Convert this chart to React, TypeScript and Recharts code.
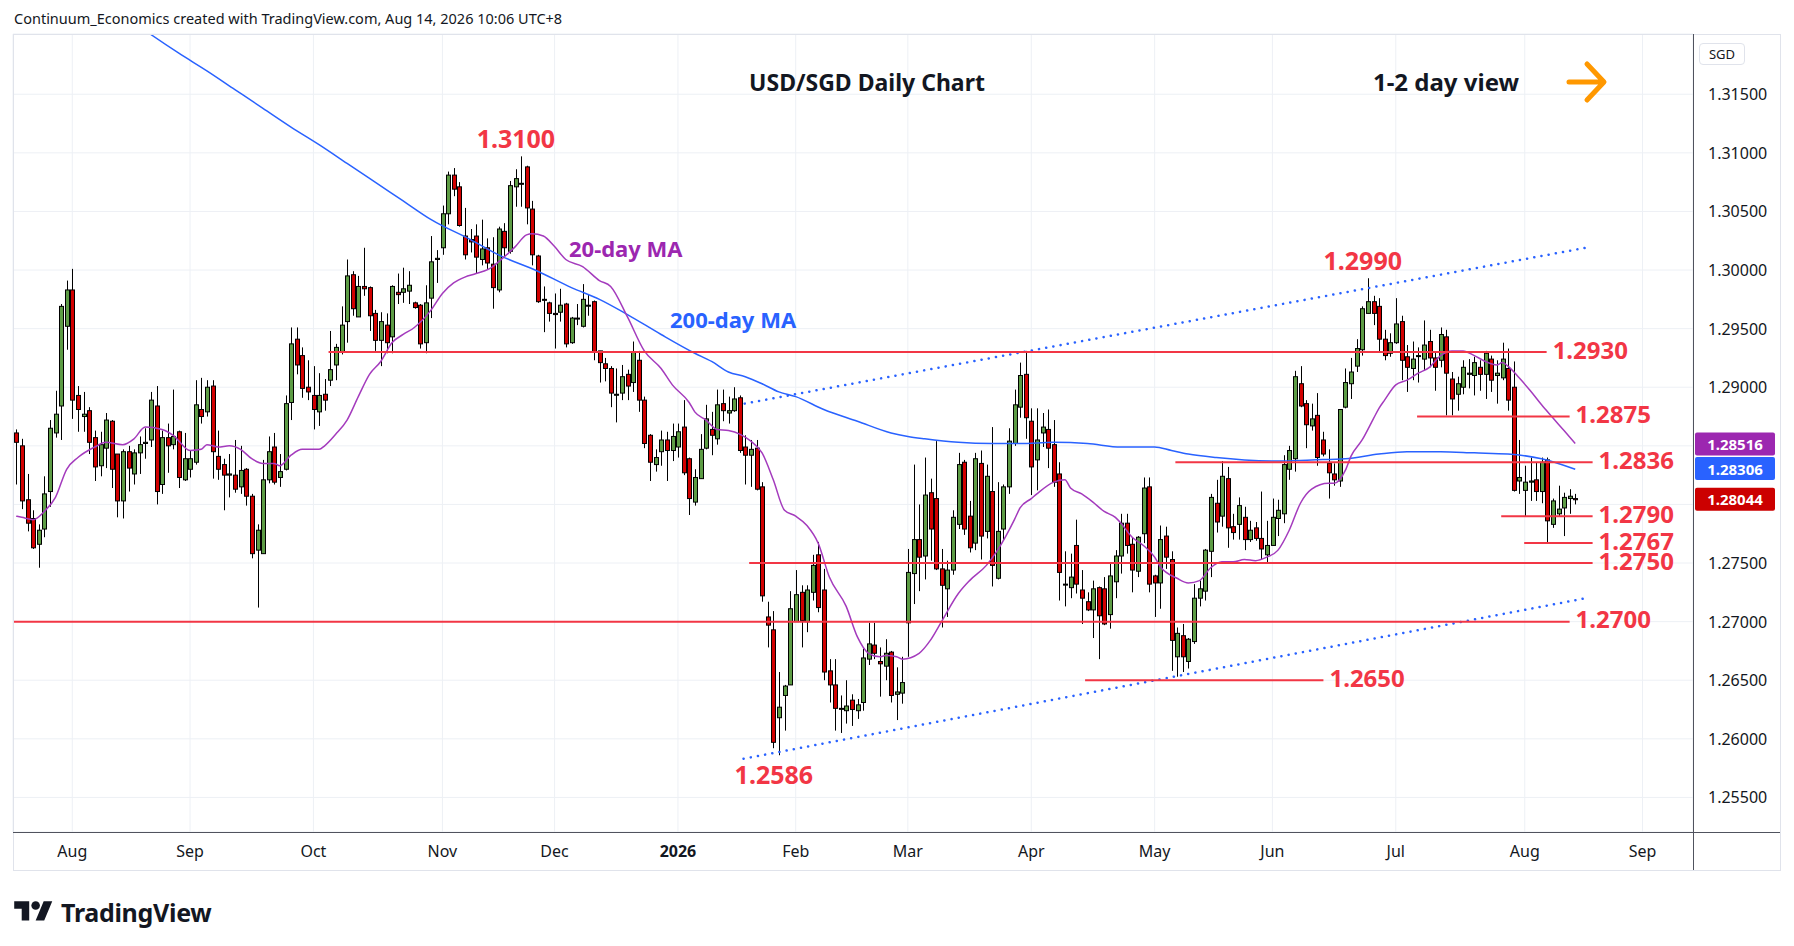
import { ComposedChart, Bar, Line, XAxis, YAxis, CartesianGrid, ReferenceLine, ReferenceDot } from 'recharts';

// open, high, low, close
type Ohlc = [number, number, number, number];

const jul25: Ohlc[] = [
  [1.2861, 1.2864, 1.2817, 1.2853], [1.2850, 1.2856, 1.2796, 1.2803], [1.2804, 1.2826, 1.2777, 1.2784],
  [1.2788, 1.2795, 1.2762, 1.2763], [1.2766, 1.2783, 1.2746, 1.2778], [1.2779, 1.2824, 1.2772, 1.2809],
  [1.2811, 1.2872, 1.2798, 1.2865], [1.2861, 1.2897, 1.2857, 1.2877], [1.2884, 1.2971, 1.2855, 1.2969],
  [1.2952, 1.2991, 1.2932, 1.2983],
];
const aug25: Ohlc[] = [
  [1.2983, 1.3001, 1.2873, 1.2889], [1.2893, 1.2901, 1.2862, 1.2881], [1.2875, 1.2896, 1.2862, 1.2877],
  [1.2880, 1.2883, 1.2843, 1.2853], [1.2857, 1.2863, 1.2820, 1.2832], [1.2833, 1.2862, 1.2824, 1.2851],
  [1.2848, 1.2878, 1.2831, 1.2872], [1.2871, 1.2872, 1.2814, 1.2830], [1.2843, 1.2843, 1.2789, 1.2803],
  [1.2803, 1.2847, 1.2788, 1.2845], [1.2845, 1.2850, 1.2811, 1.2831], [1.2826, 1.2847, 1.2817, 1.2844],
  [1.2844, 1.2858, 1.2826, 1.2851], [1.2852, 1.2865, 1.2839, 1.2853], [1.2855, 1.2896, 1.2849, 1.2889],
  [1.2884, 1.2901, 1.2800, 1.2811], [1.2817, 1.2863, 1.2809, 1.2857], [1.2857, 1.2869, 1.2827, 1.2850],
  [1.2851, 1.2898, 1.2847, 1.2858], [1.2862, 1.2863, 1.2814, 1.2823], [1.2821, 1.2861, 1.2820, 1.2839],
];
const sep25: Ohlc[] = [
  [1.2830, 1.2846, 1.2823, 1.2839], [1.2836, 1.2906, 1.2834, 1.2885], [1.2881, 1.2908, 1.2869, 1.2875],
  [1.2879, 1.2906, 1.2875, 1.2900], [1.2901, 1.2906, 1.2822, 1.2845], [1.2841, 1.2863, 1.2821, 1.2830],
  [1.2834, 1.2839, 1.2795, 1.2825], [1.2825, 1.2843, 1.2806, 1.2826], [1.2825, 1.2855, 1.2810, 1.2813],
  [1.2815, 1.2850, 1.2809, 1.2829], [1.2830, 1.2831, 1.2799, 1.2807], [1.2807, 1.2809, 1.2754, 1.2758],
  [1.2761, 1.2783, 1.2712, 1.2778], [1.2758, 1.2838, 1.2758, 1.2821], [1.2821, 1.2858, 1.2818, 1.2845],
  [1.2849, 1.2861, 1.2817, 1.2819], [1.2823, 1.2843, 1.2815, 1.2828], [1.2830, 1.2893, 1.2829, 1.2886],
  [1.2887, 1.2951, 1.2872, 1.2937], [1.2941, 1.2951, 1.2911, 1.2919], [1.2927, 1.2934, 1.2891, 1.2899],
  [1.2900, 1.2923, 1.2889, 1.2896],
];
const oct25: Ohlc[] = [
  [1.2893, 1.2918, 1.2864, 1.2881], [1.2879, 1.2912, 1.2867, 1.2893], [1.2894, 1.2907, 1.2880, 1.2889],
  [1.2906, 1.2948, 1.2901, 1.2915], [1.2919, 1.2937, 1.2906, 1.2934], [1.2930, 1.2969, 1.2928, 1.2953],
  [1.2956, 1.3009, 1.2938, 1.2995], [1.2996, 1.2999, 1.2961, 1.2967], [1.2960, 1.2995, 1.2960, 1.2986],
  [1.2986, 1.3019, 1.2978, 1.2984], [1.2985, 1.2986, 1.2948, 1.2961], [1.2963, 1.2966, 1.2931, 1.2940],
  [1.2940, 1.2964, 1.2918, 1.2956], [1.2953, 1.2963, 1.2929, 1.2938], [1.2943, 1.2987, 1.2929, 1.2986],
  [1.2981, 1.2997, 1.2971, 1.2979], [1.2981, 1.3002, 1.2972, 1.2984], [1.2982, 1.2999, 1.2971, 1.2987],
  [1.2972, 1.2973, 1.2967, 1.2968], [1.2970, 1.2971, 1.2933, 1.2937], [1.2938, 1.2987, 1.2929, 1.2972],
  [1.2976, 1.3029, 1.2959, 1.3007], [1.3009, 1.3017, 1.2989, 1.3010],
];
const nov25: Ohlc[] = [
  [1.3019, 1.3055, 1.3013, 1.3048], [1.3048, 1.3084, 1.3039, 1.3081], [1.3081, 1.3087, 1.3063, 1.3069],
  [1.3071, 1.3075, 1.3037, 1.3038], [1.3029, 1.3053, 1.3009, 1.3013], [1.3026, 1.3035, 1.3015, 1.3024],
  [1.3029, 1.3039, 1.2997, 1.3011], [1.3009, 1.3043, 1.3004, 1.3018], [1.3019, 1.3027, 1.3001, 1.3006],
  [1.3005, 1.3028, 1.2967, 1.2985], [1.2983, 1.3037, 1.2981, 1.3035], [1.3033, 1.3040, 1.3011, 1.3019],
  [1.3016, 1.3076, 1.3014, 1.3072], [1.3071, 1.3086, 1.3054, 1.3078], [1.3074, 1.3097, 1.3054, 1.3074],
  [1.3088, 1.3089, 1.3039, 1.3053], [1.3052, 1.3059, 1.3004, 1.3013], [1.3012, 1.3013, 1.2972, 1.2973],
  [1.2975, 1.2986, 1.2947, 1.2975], [1.2972, 1.2973, 1.2956, 1.2963],
];
const dec25: Ohlc[] = [
  [1.2963, 1.2980, 1.2933, 1.2962], [1.2964, 1.2984, 1.2956, 1.2970], [1.2971, 1.2972, 1.2934, 1.2937],
  [1.2938, 1.2960, 1.2937, 1.2959], [1.2959, 1.2971, 1.2953, 1.2959], [1.2952, 1.2988, 1.2951, 1.2975],
  [1.2970, 1.2979, 1.2961, 1.2970], [1.2973, 1.2974, 1.2923, 1.2930], [1.2931, 1.2931, 1.2904, 1.2921],
  [1.2920, 1.2925, 1.2905, 1.2916], [1.2916, 1.2918, 1.2883, 1.2895], [1.2894, 1.2916, 1.2870, 1.2894],
  [1.2895, 1.2919, 1.2889, 1.2909], [1.2911, 1.2915, 1.2889, 1.2901], [1.2904, 1.2939, 1.2896, 1.2930],
  [1.2923, 1.2931, 1.2879, 1.2889], [1.2889, 1.2892, 1.2848, 1.2852], [1.2859, 1.2860, 1.2820, 1.2836],
  [1.2834, 1.2847, 1.2828, 1.2840], [1.2845, 1.2863, 1.2833, 1.2855], [1.2855, 1.2862, 1.2820, 1.2846],
  [1.2846, 1.2869, 1.2837, 1.2858],
];
const jan26: Ohlc[] = [
  [1.2849, 1.2869, 1.2840, 1.2862], [1.2866, 1.2889, 1.2825, 1.2827], [1.2839, 1.2840, 1.2791, 1.2805],
  [1.2802, 1.2830, 1.2799, 1.2823], [1.2822, 1.2860, 1.2822, 1.2847], [1.2848, 1.2885, 1.2847, 1.2873],
  [1.2864, 1.2879, 1.2842, 1.2859], [1.2856, 1.2898, 1.2851, 1.2885], [1.2886, 1.2898, 1.2871, 1.2880],
  [1.2878, 1.2892, 1.2869, 1.2880], [1.2880, 1.2900, 1.2879, 1.2890], [1.2891, 1.2893, 1.2844, 1.2846],
  [1.2849, 1.2859, 1.2817, 1.2842], [1.2842, 1.2855, 1.2815, 1.2847], [1.2848, 1.2855, 1.2812, 1.2813],
  [1.2815, 1.2819, 1.2717, 1.2722], [1.2704, 1.2717, 1.2678, 1.2697], [1.2693, 1.2709, 1.2592, 1.2597],
  [1.2618, 1.2657, 1.2586, 1.2627], [1.2637, 1.2646, 1.2607, 1.2645], [1.2646, 1.2726, 1.2646, 1.2711],
];
const feb26: Ohlc[] = [
  [1.2700, 1.2744, 1.2700, 1.2723], [1.2725, 1.2731, 1.2678, 1.2701], [1.2700, 1.2731, 1.2691, 1.2727],
  [1.2725, 1.2757, 1.2718, 1.2748], [1.2757, 1.2768, 1.2708, 1.2712], [1.2727, 1.2745, 1.2650, 1.2657],
  [1.2658, 1.2668, 1.2631, 1.2646], [1.2646, 1.2668, 1.2607, 1.2626], [1.2626, 1.2637, 1.2605, 1.2626],
  [1.2624, 1.2650, 1.2613, 1.2628], [1.2633, 1.2638, 1.2611, 1.2625], [1.2624, 1.2634, 1.2617, 1.2629],
  [1.2631, 1.2677, 1.2624, 1.2669], [1.2668, 1.2699, 1.2663, 1.2681], [1.2680, 1.2699, 1.2668, 1.2673],
  [1.2666, 1.2678, 1.2636, 1.2664], [1.2662, 1.2685, 1.2650, 1.2673], [1.2674, 1.2675, 1.2631, 1.2637],
  [1.2638, 1.2661, 1.2616, 1.2640], [1.2639, 1.2670, 1.2630, 1.2648],
];
const mar26: Ohlc[] = [
  [1.2699, 1.2762, 1.2670, 1.2742], [1.2741, 1.2834, 1.2715, 1.2770], [1.2770, 1.2800, 1.2726, 1.2755],
  [1.2756, 1.2840, 1.2736, 1.2808], [1.2810, 1.2822, 1.2752, 1.2779], [1.2805, 1.2854, 1.2744, 1.2745],
  [1.2745, 1.2762, 1.2695, 1.2731], [1.2728, 1.2752, 1.2704, 1.2744], [1.2744, 1.2795, 1.2740, 1.2789],
  [1.2783, 1.2844, 1.2779, 1.2834], [1.2836, 1.2838, 1.2774, 1.2779], [1.2790, 1.2803, 1.2759, 1.2763],
  [1.2767, 1.2844, 1.2761, 1.2839], [1.2835, 1.2846, 1.2753, 1.2773], [1.2777, 1.2834, 1.2771, 1.2824],
  [1.2811, 1.2866, 1.2730, 1.2748], [1.2737, 1.2819, 1.2736, 1.2777], [1.2779, 1.2817, 1.2769, 1.2815],
  [1.2815, 1.2865, 1.2809, 1.2854], [1.2852, 1.2898, 1.2850, 1.2885], [1.2883, 1.2921, 1.2874, 1.2910],
  [1.2911, 1.2931, 1.2856, 1.2874],
];
const apr26: Ohlc[] = [
  [1.2871, 1.2882, 1.2808, 1.2832], [1.2838, 1.2882, 1.2812, 1.2855], [1.2861, 1.2878, 1.2849, 1.2866],
  [1.2864, 1.2881, 1.2831, 1.2848], [1.2851, 1.2872, 1.2815, 1.2819], [1.2826, 1.2836, 1.2718, 1.2742],
  [1.2732, 1.2760, 1.2713, 1.2732], [1.2729, 1.2758, 1.2720, 1.2738], [1.2765, 1.2787, 1.2724, 1.2732],
  [1.2727, 1.2744, 1.2698, 1.2720], [1.2717, 1.2725, 1.2709, 1.2710], [1.2710, 1.2735, 1.2686, 1.2728],
  [1.2729, 1.2730, 1.2668, 1.2705], [1.2728, 1.2738, 1.2697, 1.2698], [1.2706, 1.2750, 1.2694, 1.2739],
  [1.2734, 1.2761, 1.2720, 1.2756], [1.2756, 1.2792, 1.2741, 1.2784], [1.2784, 1.2792, 1.2758, 1.2765],
  [1.2766, 1.2772, 1.2725, 1.2744], [1.2743, 1.2773, 1.2738, 1.2772], [1.2775, 1.2823, 1.2767, 1.2814],
  [1.2815, 1.2823, 1.2725, 1.2732],
];
const may26: Ohlc[] = [
  [1.2739, 1.2740, 1.2704, 1.2733], [1.2733, 1.2782, 1.2711, 1.2770], [1.2773, 1.2781, 1.2745, 1.2755],
  [1.2753, 1.2760, 1.2658, 1.2684], [1.2670, 1.2695, 1.2653, 1.2690], [1.2688, 1.2698, 1.2657, 1.2670],
  [1.2666, 1.2686, 1.2660, 1.2685], [1.2683, 1.2732, 1.2681, 1.2720], [1.2720, 1.2735, 1.2713, 1.2728],
  [1.2726, 1.2762, 1.2718, 1.2761], [1.2760, 1.2809, 1.2738, 1.2806], [1.2801, 1.2821, 1.2776, 1.2785],
  [1.2790, 1.2837, 1.2781, 1.2824], [1.2822, 1.2832, 1.2763, 1.2780], [1.2781, 1.2792, 1.2770, 1.2776],
  [1.2783, 1.2806, 1.2770, 1.2799], [1.2789, 1.2798, 1.2761, 1.2770], [1.2770, 1.2786, 1.2768, 1.2778],
  [1.2780, 1.2785, 1.2769, 1.2771], [1.2771, 1.2811, 1.2753, 1.2762], [1.2757, 1.2786, 1.2750, 1.2765],
];
const jun26: Ohlc[] = [
  [1.2765, 1.2805, 1.2765, 1.2789], [1.2788, 1.2804, 1.2773, 1.2795], [1.2792, 1.2842, 1.2784, 1.2834],
  [1.2830, 1.2850, 1.2821, 1.2846], [1.2839, 1.2914, 1.2828, 1.2909], [1.2903, 1.2918, 1.2883, 1.2884],
  [1.2886, 1.2889, 1.2848, 1.2868], [1.2867, 1.2886, 1.2863, 1.2873], [1.2876, 1.2895, 1.2833, 1.2840],
  [1.2855, 1.2862, 1.2841, 1.2843], [1.2835, 1.2847, 1.2805, 1.2827], [1.2826, 1.2835, 1.2816, 1.2821],
  [1.2820, 1.2881, 1.2815, 1.2881], [1.2883, 1.2916, 1.2882, 1.2904], [1.2903, 1.2925, 1.2890, 1.2913],
  [1.2918, 1.2941, 1.2913, 1.2933], [1.2932, 1.2969, 1.2927, 1.2967], [1.2963, 1.2993, 1.2963, 1.2973],
  [1.2973, 1.2978, 1.2953, 1.2963], [1.2969, 1.2976, 1.2930, 1.2941], [1.2941, 1.2949, 1.2923, 1.2927],
  [1.2929, 1.2946, 1.2926, 1.2938],
];
const jul26: Ohlc[] = [
  [1.2938, 1.2976, 1.2937, 1.2954], [1.2956, 1.2961, 1.2906, 1.2923], [1.2926, 1.2936, 1.2896, 1.2917],
  [1.2916, 1.2939, 1.2906, 1.2924], [1.2927, 1.2934, 1.2904, 1.2927], [1.2924, 1.2957, 1.2914, 1.2936],
  [1.2939, 1.2949, 1.2917, 1.2925], [1.2925, 1.2930, 1.2897, 1.2917], [1.2923, 1.2951, 1.2917, 1.2945],
  [1.2943, 1.2949, 1.2876, 1.2912], [1.2907, 1.2913, 1.2876, 1.2890], [1.2894, 1.2909, 1.2880, 1.2903],
  [1.2900, 1.2923, 1.2894, 1.2917], [1.2911, 1.2924, 1.2899, 1.2912], [1.2910, 1.2926, 1.2893, 1.2921],
  [1.2917, 1.2923, 1.2897, 1.2911], [1.2911, 1.2931, 1.2890, 1.2929], [1.2924, 1.2927, 1.2896, 1.2906],
  [1.2910, 1.2923, 1.2886, 1.2912], [1.2908, 1.2938, 1.2906, 1.2924], [1.2916, 1.2933, 1.2880, 1.2889],
  [1.2900, 1.2922, 1.2811, 1.2812], [1.2820, 1.2855, 1.2809, 1.2823],
];
const aug26: Ohlc[] = [
  [1.2812, 1.2833, 1.2790, 1.2819], [1.2819, 1.2840, 1.2803, 1.2820], [1.2821, 1.2836, 1.2803, 1.2811],
  [1.2811, 1.2840, 1.2801, 1.2836], [1.2838, 1.2840, 1.2767, 1.2786], [1.2783, 1.2805, 1.2780, 1.2803],
  [1.2792, 1.2816, 1.2790, 1.2796], [1.2797, 1.2810, 1.2773, 1.2806], [1.2805, 1.2813, 1.2792, 1.2807],
  [1.2805, 1.2809, 1.2800, 1.2804],
];

// moving averages: [bar number, value]
const ma20Points: [number, number][] = [
  [1, 1.2790], [2, 1.2789], [4, 1.2787], [6, 1.2794], [8, 1.2806], [10, 1.2830], [12, 1.2840], [15, 1.2849],
  [17, 1.2853], [20, 1.2851], [22, 1.2856], [24, 1.2866], [27, 1.2864], [29, 1.2859], [32, 1.2846], [34, 1.2847],
  [35, 1.2851], [37, 1.2849], [39, 1.2850], [41, 1.2847], [43, 1.2839], [45, 1.2835], [47, 1.2835], [48, 1.2833],
  [50, 1.2842], [52, 1.2847], [55, 1.2847], [56, 1.2850], [58, 1.2860], [60, 1.2872], [62, 1.2892], [64, 1.2911],
  [66, 1.2922], [68, 1.2938], [70, 1.2945], [72, 1.2951], [75, 1.2966], [77, 1.2980], [79, 1.2989], [81, 1.2994],
  [83, 1.2997], [86, 1.3003], [87, 1.3007], [90, 1.3020], [92, 1.3030], [93, 1.3031], [95, 1.3029], [97, 1.3020],
  [99, 1.3009], [102, 1.3003], [105, 1.2991], [107, 1.2986], [110, 1.2960], [113, 1.2931], [116, 1.2916],
  [118, 1.2902], [121, 1.2887], [122, 1.2879], [124, 1.2872], [126, 1.2864], [128, 1.2863], [130, 1.2860],
  [132, 1.2854], [134, 1.2844], [136, 1.2821], [138, 1.2795], [140, 1.2790], [142, 1.2782], [144, 1.2767],
  [146, 1.2738], [149, 1.2713], [151, 1.2687], [153, 1.2673], [155, 1.2670], [156, 1.2671], [158, 1.2670],
  [159, 1.2668], [162, 1.2673], [164, 1.2684], [166, 1.2700], [169, 1.2724], [171, 1.2735], [174, 1.2748],
  [176, 1.2761], [179, 1.2787], [180, 1.2797], [182, 1.2805], [183, 1.2809], [186, 1.2819], [188, 1.2821],
  [189, 1.2814], [191, 1.2809], [193, 1.2802], [195, 1.2794], [197, 1.2789], [198, 1.2784], [200, 1.2772],
  [202, 1.2765], [204, 1.2755], [205, 1.2747], [208, 1.2737], [210, 1.2733], [212, 1.2735], [214, 1.2746],
  [216, 1.2751], [218, 1.2751], [220, 1.2753], [222, 1.2752], [224, 1.2755], [226, 1.2761], [228, 1.2778],
  [230, 1.2801], [232, 1.2813], [235, 1.2818], [236, 1.2818], [238, 1.2829], [239, 1.2841], [241, 1.2855],
  [243, 1.2873], [244, 1.2882], [245, 1.2889], [247, 1.2902], [249, 1.2906], [251, 1.2912], [253, 1.2917],
  [255, 1.2927], [257, 1.2931], [259, 1.2931], [261, 1.2927], [263, 1.2922], [265, 1.2919], [266, 1.2921],
  [267, 1.2918], [269, 1.2908], [271, 1.2897], [273, 1.2885], [275, 1.2874], [277, 1.2863], [279, 1.2852],
];
const ma200Points: [number, number][] = [
  [22, 1.3211], [25, 1.3201], [30, 1.3185], [35, 1.3170], [40, 1.3154], [45, 1.3138], [50, 1.3122],
  [55, 1.3107], [60, 1.3091], [65, 1.3075], [70, 1.3059], [75, 1.3043], [82, 1.3026], [87, 1.3013],
  [94, 1.2999], [100, 1.2985], [105, 1.2975], [110, 1.2962], [116, 1.2945], [122, 1.2929], [125, 1.2922],
  [128, 1.2913], [131, 1.2909], [134, 1.2903], [137, 1.2896], [140, 1.2892], [145, 1.2881], [151, 1.2871],
  [157, 1.2861], [160, 1.2858], [163, 1.2856], [169, 1.2853], [175, 1.2852], [180, 1.2852], [186, 1.2853],
  [192, 1.2852], [198, 1.2849], [204, 1.2849], [207, 1.2846], [210, 1.2843], [215, 1.2840], [220, 1.2838],
  [226, 1.2837], [232, 1.2838], [238, 1.2839], [244, 1.2843], [249, 1.2845], [255, 1.2845], [261, 1.2844],
  [267, 1.2843], [273, 1.2839], [279, 1.2830],
];

const monthTicks = [11, 32, 54, 77, 97, 119, 140, 160, 182, 204, 225, 247, 270, 291];
const monthLabels = ['Aug', 'Sep', 'Oct', 'Nov', 'Dec', '2026', 'Feb', 'Mar', 'Apr', 'May', 'Jun', 'Jul', 'Aug', 'Sep'];
const priceTicks = [1.255, 1.26, 1.265, 1.27, 1.275, 1.28, 1.285, 1.29, 1.295, 1.3, 1.305, 1.31, 1.315];
const hiddenPriceTicks = [1.285, 1.28];

// support / resistance levels: price, first bar, last bar
const levelPrices = [1.293, 1.2875, 1.2836, 1.279, 1.2767, 1.275, 1.27, 1.265];
const levelFrom = [56.7, 250.8, 207.7, 265.8, 269.9, 131.7, 0.43, 191.6];
const levelTo = [273.9, 278, 282.1, 282.1, 282.1, 282.1, 278, 234.1];

// channel lines: [bar, price] at both ends
const channelUpper: [number, number][] = [[130.9, 1.2886], [280.9, 1.3019]];
const channelLower: [number, number][] = [[130.7, 1.2583], [280.9, 1.2720]];

// swing labels
const swingBars = [91, 242, 137];
const swingPrices = [1.3097, 1.2993, 1.2586];
const swingTexts = ['1.3100', '1.2990', '1.2586'];

const lastValues = [1.28516, 1.28306, 1.28044];
const lastColors = ['#9c27b0', '#2962ff', '#cc0000'];

const UP = '#5d9c45';
const DOWN = '#d10000';
const RED = '#f23645';

const candles: Ohlc[] = [
  ...jul25, ...aug25, ...sep25, ...oct25, ...nov25, ...dec25, ...jan26,
  ...feb26, ...mar26, ...apr26, ...may26, ...jun26, ...jul26, ...aug26,
];
const ma20ByBar = new Map(ma20Points);
const ma200ByBar = new Map(ma200Points);

const rows = candles.map(([open, high, low, close], k) => {
  const idx = k + 1;
  return { idx, open, high, low, close, range: [low, high], ma20: ma20ByBar.get(idx), ma200: ma200ByBar.get(idx) };
});

function Candle(props: any) {
  const { x, y, width, height, payload } = props;
  if (x == null || y == null || !payload) return null;
  const { open, high, low, close } = payload;
  const top = Math.min(y, y + height);
  const h = Math.abs(height);
  const span = high - low;
  const py = (v: number) => (span > 0 ? top + ((high - v) / span) * h : top);
  const c = Math.round(x + width / 2);
  const bTop = py(Math.max(open, close));
  const bBot = py(Math.min(open, close));
  return (
    <g>
      <line x1={c + 0.5} x2={c + 0.5} y1={top} y2={top + h} stroke="#000" strokeWidth={1} />
      <rect x={c - 1.5} y={bTop} width={4} height={Math.max(bBot - bTop, 1)} fill={close >= open ? UP : DOWN} stroke="#000" strokeWidth={1} />
    </g>
  );
}

function PriceTick(props: any) {
  const { x, y, payload } = props;
  const v = payload.value as number;
  if (hiddenPriceTicks.some((t) => Math.abs(t - v) < 1e-9)) return <g />;
  return (
    <text x={x + 15} y={y} dominantBaseline="central" fontSize={16} fill="#131722">
      {v.toFixed(5)}
    </text>
  );
}

function MonthTick(props: any) {
  const { x, y, payload } = props;
  const label = monthLabels[monthTicks.indexOf(payload.value)] ?? '';
  return (
    <text x={x} y={y + 19} textAnchor="middle" dominantBaseline="central" fontSize={16} fontWeight={label === '2026' ? 700 : 400} fill="#131722">
      {label}
    </text>
  );
}

function LevelLabel(props: any) {
  const vb = props.viewBox;
  if (!vb) return null;
  return (
    <text x={vb.x + vb.width + 6} y={vb.y - 3} dominantBaseline="central" fontSize={24} fontWeight={700} fill={RED}>
      {props.text}
    </text>
  );
}

function SwingLabel(props: any) {
  const vb = props.viewBox;
  if (!vb) return null;
  return (
    <text x={vb.x - 5} y={vb.y + props.dy} textAnchor="middle" dominantBaseline="central" fontSize={25} fontWeight={700} fill={RED}>
      {props.text}
    </text>
  );
}

function AxisTag(props: any) {
  const vb = props.viewBox;
  if (!vb) return null;
  const left = vb.x + vb.width + 2;
  return (
    <g>
      <rect x={left} y={vb.y - 11.5} width={80} height={23} rx={2} fill={props.color} />
      <text x={left + 40} y={vb.y} textAnchor="middle" dominantBaseline="central" fontSize={15} fontWeight={700} fill="#fff">
        {props.text}
      </text>
    </g>
  );
}

const text = (extra: React.CSSProperties): React.CSSProperties => ({
  position: 'absolute',
  whiteSpace: 'nowrap',
  lineHeight: 1,
  ...extra,
});

export default function App() {
  return (
    <div style={{ position: 'absolute', left: 0, top: 0, width: 1794, height: 946, background: '#fff', fontFamily: "'Noto Sans', sans-serif", color: '#131722' }}>
      <ComposedChart width={1794} height={946} data={rows} margin={{ top: 34, right: 14, bottom: 76, left: 13 }}>
        <CartesianGrid stroke="#edf0f5" />
        <XAxis
          dataKey="idx"
          type="number"
          domain={[0.43, 300]}
          allowDataOverflow
          ticks={monthTicks}
          interval={0}
          height={38}
          tickSize={0}
          tickMargin={0}
          axisLine={false}
          tickLine={false}
          tick={MonthTick}
        />
        <YAxis
          orientation="right"
          domain={[1.25205, 1.32014]}
          allowDataOverflow
          ticks={priceTicks}
          interval={0}
          width={87}
          tickSize={0}
          tickMargin={0}
          axisLine={false}
          tickLine={false}
          tick={PriceTick}
        />
        <Line dataKey="ma200" type="monotone" stroke="#2962ff" strokeWidth={1.5} dot={false} connectNulls isAnimationActive={false} />
        <Line dataKey="ma20" type="monotone" stroke="#a43bbd" strokeWidth={1.5} dot={false} connectNulls isAnimationActive={false} />
        <ReferenceLine
          segment={channelUpper.map(([x, y]) => ({ x, y }))}
          stroke="#2962ff"
          strokeWidth={2.5}
          strokeDasharray="0.1 7.2"
          strokeLinecap="round"
        />
        <ReferenceLine
          segment={channelLower.map(([x, y]) => ({ x, y }))}
          stroke="#2962ff"
          strokeWidth={2.5}
          strokeDasharray="0.1 7.2"
          strokeLinecap="round"
        />
        {levelPrices.map((p, k) => (
          <ReferenceLine
            key={p}
            segment={[{ x: levelFrom[k], y: p }, { x: levelTo[k], y: p }]}
            stroke={RED}
            strokeWidth={2}
            label={<LevelLabel text={p.toFixed(4)} />}
          />
        ))}
        <Bar dataKey="range" barSize={4} shape={<Candle />} isAnimationActive={false} />
        {swingBars.map((b, k) => (
          <ReferenceDot
            key={b}
            x={b}
            y={swingPrices[k]}
            r={0}
            fill="none"
            stroke="none"
            label={<SwingLabel text={swingTexts[k]} dy={k === 2 ? 19 : -18} />}
          />
        ))}
        {lastValues.map((v, k) => (
          <ReferenceLine key={v} y={v} stroke="none" label={<AxisTag text={v.toFixed(5)} color={lastColors[k]} />} />
        ))}
      </ComposedChart>

      <svg width={1794} height={946} style={{ position: 'absolute', left: 0, top: 0, pointerEvents: 'none' }}>
        <rect x={13.5} y={34.5} width={1767} height={836} fill="none" stroke="#e0e3eb" strokeWidth={1} />
        <line x1={13} x2={1780} y1={832.5} y2={832.5} stroke="#50535e" strokeWidth={1} />
        <line x1={1693.5} x2={1693.5} y1={34} y2={870} stroke="#50535e" strokeWidth={1} />
        <path d="M 1569 82 H 1603 M 1587 64 L 1604 82 L 1587 100" stroke="#ff9800" strokeWidth={5} fill="none" strokeLinecap="round" strokeLinejoin="round" />
      </svg>

      <div style={text({ left: 14, top: 11, fontSize: 14.5 })}>
        Continuum_Economics created with TradingView.com, Aug 14, 2026 10:06 UTC+8
      </div>
      <div style={text({ left: 867, top: 82, transform: 'translate(-50%, -50%)', fontSize: 23, fontWeight: 700 })}>USD/SGD Daily Chart</div>
      <div style={text({ left: 1446, top: 82, transform: 'translate(-50%, -50%)', fontSize: 24, fontWeight: 700 })}>1-2 day view</div>
      <div style={text({ left: 569, top: 248, transform: 'translateY(-50%)', fontSize: 22, fontWeight: 700, color: '#9c27b0' })}>20-day MA</div>
      <div style={text({ left: 670, top: 319, transform: 'translateY(-50%)', fontSize: 22, fontWeight: 700, color: '#2962ff' })}>200-day MA</div>
      <div
        style={{
          position: 'absolute', left: 1699, top: 43, width: 46, height: 22, border: '1px solid #e0e3eb', borderRadius: 4,
          fontSize: 13, display: 'flex', alignItems: 'center', justifyContent: 'center', boxSizing: 'border-box',
        }}
      >
        SGD
      </div>
      <div style={{ position: 'absolute', left: 14, top: 895, display: 'flex', alignItems: 'center', gap: 8 }}>
        <svg width={39} height={30} viewBox="0 0 36 28">
          <path d="M14 22H7V11H0V4h14v18zM28 22h-8l7.5-18h8L28 22z" fill="#131722" />
          <circle cx={20} cy={8} r={4} fill="#131722" />
        </svg>
        <span style={{ fontSize: 25, fontWeight: 700, letterSpacing: -0.3 }}>TradingView</span>
      </div>
    </div>
  );
}
